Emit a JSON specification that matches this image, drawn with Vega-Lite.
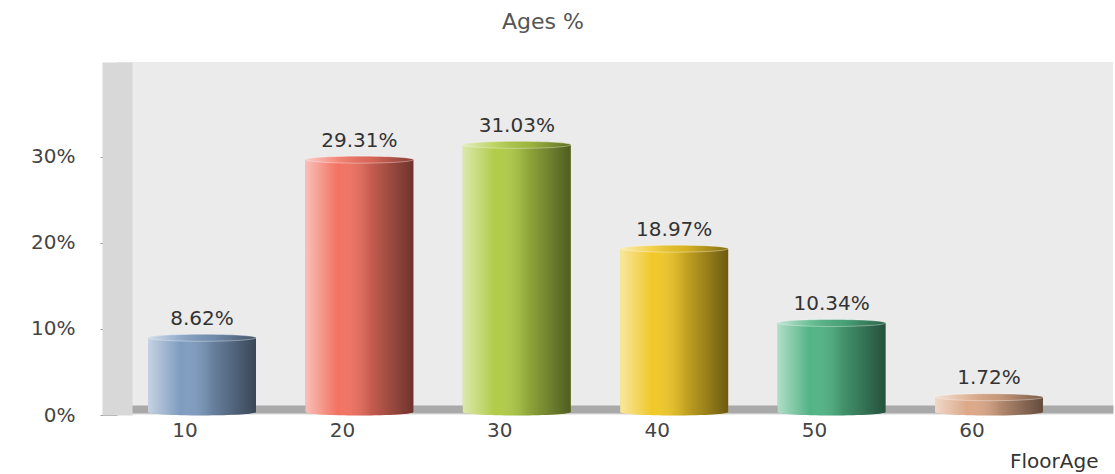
{
  "$schema": "https://vega.github.io/schema/vega-lite/v6.json",
  "autosize": {"type": "none"},
  "width": 996,
  "height": 353,
  "padding": {"left": 117, "top": 62, "right": 2, "bottom": 59},
  "background": "#ffffff",
  "title": {
    "text": "Ages %",
    "anchor": "middle",
    "frame": "group",
    "dx": -72,
    "offset": 11,
    "baseline": "alphabetic",
    "font": "DejaVu Sans",
    "fontSize": 22,
    "fontWeight": "normal",
    "color": "#555555"
  },
  "config": {
    "view": {"fill": "#ebebeb", "stroke": null},
    "font": "DejaVu Sans"
  },
  "data": {
    "values": [
      {"age": "10", "pct": 0.0862},
      {"age": "20", "pct": 0.2931},
      {"age": "30", "pct": 0.3103},
      {"age": "40", "pct": 0.1897},
      {"age": "50", "pct": 0.1034},
      {"age": "60", "pct": 0.0172}
    ]
  },
  "encoding": {
    "x": {
      "field": "age",
      "type": "nominal",
      "sort": null,
      "scale": {"paddingInner": 0.314, "paddingOuter": 0.321, "align": 0.307},
      "axis": {
        "title": "FloorAge",
        "titleFont": "DejaVu Sans",
        "titleFontSize": 20,
        "titleFontWeight": "normal",
        "titleColor": "#333333",
        "titleAlign": "right",
        "titleAnchor": "end",
        "titleBaseline": "alphabetic",
        "titleX": 981,
        "titleY": 58,
        "labelAngle": 0,
        "labelFont": "DejaVu Sans",
        "labelFontSize": 20,
        "labelColor": "#444444",
        "labelOffset": -17,
        "labelPadding": 11,
        "ticks": false,
        "domain": true,
        "domainColor": "#a9a9a9",
        "domainWidth": 8,
        "offset": -6,
        "grid": false
      }
    },
    "color": {
      "field": "age",
      "type": "nominal",
      "sort": null,
      "legend": null,
      "scale": {"range": ["#7f9cc0", "#f27262", "#b0cc48", "#f0c828", "#52b485", "#dca888"]}
    }
  },
  "layer": [
    {
      "mark": {
        "type": "point",
        "filled": true,
        "opacity": 1,
        "strokeWidth": 0,
        "size": 11664,
        "yOffset": -3,
        "shape": "M -1 0 A 1 0.065 0 1 1 1 0 A 1 0.065 0 1 1 -1 0 Z"
      },
      "encoding": {"y": {"datum": 0, "type": "quantitative"}}
    },
    {
      "mark": {
        "type": "point",
        "opacity": 1,
        "strokeWidth": 0,
        "size": 11664,
        "yOffset": -3,
        "shape": "M -1 0 A 1 0.065 0 1 1 1 0 A 1 0.065 0 1 1 -1 0 Z",
        "fill": {
          "gradient": "linear", "x1": 0, "x2": 1, "y1": 0, "y2": 0,
          "stops": [
            {"offset": 0, "color": "rgba(255,255,255,0.55)"},
            {"offset": 0.3, "color": "rgba(255,255,255,0)"},
            {"offset": 0.6, "color": "rgba(0,0,0,0.18)"},
            {"offset": 1, "color": "rgba(0,0,0,0.55)"}
          ]
        }
      },
      "encoding": {"y": {"datum": 0, "type": "quantitative"}, "color": {"value": null}}
    },
    {
      "mark": {"type": "bar", "yOffset": -3},
      "encoding": {
        "y": {
          "field": "pct",
          "type": "quantitative",
          "scale": {"domain": [0, 0.41], "nice": false, "zero": true},
          "axis": {
            "title": null,
            "values": [0, 0.1, 0.2, 0.3],
            "format": ".0%",
            "grid": false,
            "labelFont": "DejaVu Sans",
            "labelFontSize": 20,
            "labelColor": "#444444",
            "labelPadding": 25,
            "ticks": true,
            "tickSize": 17,
            "tickColor": "#9a9a9a",
            "tickWidth": 1,
            "domain": true,
            "domainColor": "#d8d8d8",
            "domainWidth": 30
          }
        }
      }
    },
    {
      "mark": {
        "type": "bar",
        "yOffset": -3,
        "fill": {
          "gradient": "linear", "x1": 0, "x2": 1, "y1": 0, "y2": 0,
          "stops": [
            {"offset": 0, "color": "rgba(255,255,255,0.55)"},
            {"offset": 0.3, "color": "rgba(255,255,255,0)"},
            {"offset": 0.6, "color": "rgba(0,0,0,0.18)"},
            {"offset": 1, "color": "rgba(0,0,0,0.55)"}
          ]
        }
      },
      "encoding": {"y": {"field": "pct", "type": "quantitative"}, "color": {"value": null}}
    },
    {
      "mark": {
        "type": "point",
        "filled": true,
        "opacity": 1,
        "strokeWidth": 0,
        "size": 11664,
        "yOffset": -3,
        "shape": "M -1 0 A 1 0.065 0 1 1 1 0 A 1 0.065 0 1 1 -1 0 Z"
      },
      "encoding": {"y": {"field": "pct", "type": "quantitative"}}
    },
    {
      "mark": {
        "type": "point",
        "opacity": 1,
        "stroke": "rgba(255,255,255,0.35)",
        "strokeWidth": 1,
        "size": 11664,
        "yOffset": -3,
        "shape": "M -1 0 A 1 0.065 0 1 1 1 0 A 1 0.065 0 1 1 -1 0 Z",
        "fill": {
          "gradient": "linear", "x1": 0, "x2": 1, "y1": 0, "y2": 0,
          "stops": [
            {"offset": 0, "color": "rgba(255,255,255,0.65)"},
            {"offset": 0.3, "color": "rgba(255,255,255,0.15)"},
            {"offset": 0.6, "color": "rgba(0,0,0,0.1)"},
            {"offset": 1, "color": "rgba(0,0,0,0.45)"}
          ]
        }
      },
      "encoding": {"y": {"field": "pct", "type": "quantitative"}, "color": {"value": null}}
    },
    {
      "mark": {
        "type": "text",
        "baseline": "alphabetic",
        "align": "center",
        "dy": -16,
        "font": "DejaVu Sans",
        "fontSize": 20,
        "fill": "#333333"
      },
      "encoding": {
        "y": {"field": "pct", "type": "quantitative"},
        "text": {"field": "pct", "type": "quantitative", "format": ".2%"},
        "color": {"value": "#333333"}
      }
    }
  ]
}
